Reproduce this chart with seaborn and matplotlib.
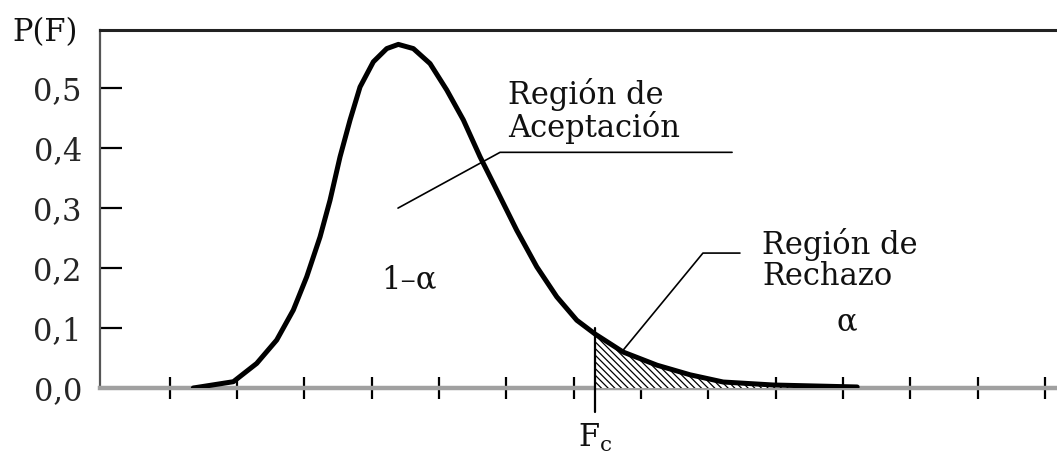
import matplotlib
matplotlib.use("Agg")
import matplotlib.pyplot as plt
import numpy as np
import seaborn as sns

# curva F
f_x = [1.349, 1.944, 2.291, 2.588, 2.835, 3.034, 3.232, 3.380, 3.529, 3.678,
       3.826, 4.024, 4.223, 4.395, 4.618, 4.866, 5.114, 5.361, 5.609, 5.857,
       6.154, 6.452, 6.749, 7.046, 7.318, 7.734, 8.239, 8.73, 9.22, 9.963,
       11.211]
f_y = [0.0, 0.0105, 0.041, 0.080, 0.130, 0.1855, 0.252, 0.313, 0.3855, 0.447,
       0.502, 0.544, 0.566, 0.573, 0.566, 0.541, 0.497, 0.447, 0.3855, 0.330,
       0.263, 0.202, 0.152, 0.113, 0.090, 0.060, 0.038, 0.022, 0.010, 0.005,
       0.0017]

f_c = 7.318
fc_line_y = [-0.04, 0.1]

y_ticks = [0.0, 0.1, 0.2, 0.3, 0.4, 0.5]
y_labels = ["0,0", "0,1", "0,2", "0,3", "0,4", "0,5"]
x_ticks = list(range(1, 15))

# lineas guia de las etiquetas
acept_x = [4.39, 5.906, 9.353]
acept_y = [0.30, 0.393, 0.393]
rech_x = [7.734, 8.92, 9.47]
rech_y = [0.063, 0.225, 0.225]

sns.set_style("white")
plt.rcParams["font.family"] = ["DejaVu Serif"]
plt.rcParams["mathtext.fontset"] = "dejavuserif"
plt.rcParams["hatch.linewidth"] = 0.9

fig = plt.figure(figsize=(10.57, 4.58), dpi=100)
ax = fig.add_axes([100 / 1057, 1 - 388 / 458, 957 / 1057, (388 - 30) / 458])

sns.lineplot(x=f_x, y=f_y, ax=ax, color="black", linewidth=3.6,
             solid_joinstyle="round", solid_capstyle="round", zorder=5)

fx = np.array(f_x)
fy = np.array(f_y)
mask = fx >= f_c
ax.fill_between(fx[mask], 0, fy[mask], facecolor="white", edgecolor="black",
                hatch="\\\\\\\\\\", linewidth=0, zorder=3)

ax.plot([f_c, f_c], fc_line_y, color="black", linewidth=1.6,
        clip_on=False, zorder=6)

ax.plot(acept_x, acept_y, color="black", linewidth=1.2, zorder=4)
ax.plot(rech_x, rech_y, color="black", linewidth=1.2, zorder=4)

ax.set_xlim(-0.037, 14.18)
ax.set_ylim(0, 0.597)
ax.set_xticks(x_ticks)
ax.set_xticklabels([])
ax.set_yticks(y_ticks)
ax.set_yticklabels(y_labels, fontsize=22)

ax.tick_params(axis="x", direction="inout", length=16, width=1.6,
               color="black", bottom=True)
ax.tick_params(axis="y", direction="in", length=16, width=1.6,
               color="black", pad=13, left=True)

ax.spines["right"].set_visible(False)
ax.spines["top"].set_color("#222222")
ax.spines["top"].set_linewidth(2.2)
ax.spines["left"].set_color("#555555")
ax.spines["left"].set_linewidth(1.6)
ax.spines["bottom"].set_color("#a0a0a0")
ax.spines["bottom"].set_linewidth(3.2)

txt = dict(fontsize=22, color="#111111")
ax.text(-1.345, 0.593, "P(F)", ha="left", va="center", clip_on=False, **txt)
ax.text(6.025, 0.517, "Región de\nAceptación", ha="left", va="top",
        linespacing=1.0, **txt)
ax.text(9.80, 0.267, "Región de\nRechazo", ha="left", va="top",
        linespacing=1.0, **txt)
ax.text(11.06, 0.110, "α", ha="center", va="center", **txt)
ax.text(4.55, 0.180, "1–α", ha="center", va="center", **txt)
ax.text(f_c, -0.056, r"$\mathregular{F_c}$", ha="center", va="top",
        clip_on=False, **txt)

fig.savefig("out.png", dpi=100)
